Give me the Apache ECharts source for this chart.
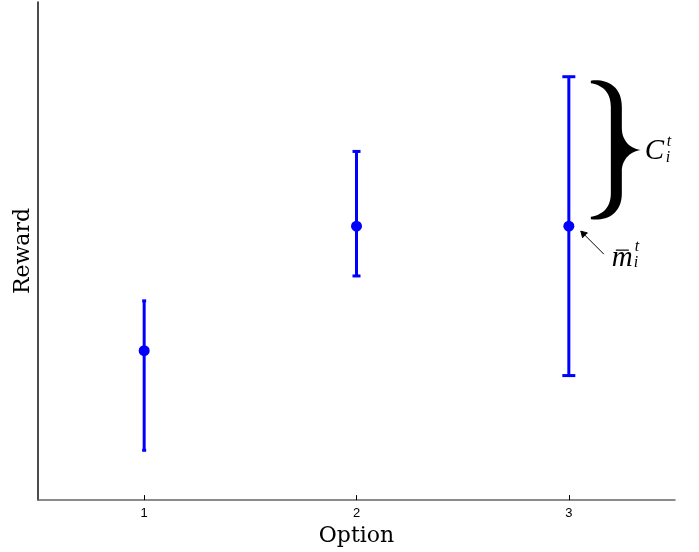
<!DOCTYPE html>
<html><head><meta charset="utf-8">
<script src="https://cdn.jsdelivr.net/npm/echarts@6/dist/echarts.min.js"></script>
<style>html,body{margin:0;padding:0;background:#fff}#c{width:699px;height:552px}</style>
</head><body><div id="c"></div>
<script>
// ---- data ----
const categories = ['1', '2', '3'];
const means = [3, 5.5, 5.5];
const lows = [1, 4.5, 2.5];
const highs = [4, 7, 8.5];
const braceIndex = 2;          // option whose confidence interval is annotated
const braceLabel = 'C';        // C_i^t
const meanLabel = 'm';         // \bar m_i^t
const yMin = 0, yMax = 10;

// ---- styles ----
const BLUE = '#0000ff';
const capWidths = [4, 8, 13];

const chart = echarts.init(document.getElementById('c'), null, {renderer: 'canvas'});

function errorBars(params, api) {
  const i = api.value(0);
  const lo = api.coord([i, api.value(1)]);
  const hi = api.coord([i, api.value(2)]);
  const w = capWidths[params.dataIndex] / 2;
  const st = {stroke: BLUE, lineWidth: 3};
  return {type: 'group', children: [
    {type: 'line', shape: {x1: lo[0], y1: lo[1], x2: hi[0], y2: hi[1]}, style: st},
    {type: 'line', shape: {x1: lo[0] - w, y1: lo[1], x2: lo[0] + w, y2: lo[1]}, style: st},
    {type: 'line', shape: {x1: hi[0] - w, y1: hi[1], x2: hi[0] + w, y2: hi[1]}, style: st}
  ]};
}

function annotation(params, api) {
  const i = api.value(0);
  const pm = api.coord([i, api.value(1)]);
  const ph = api.coord([i, api.value(2)]);
  const x0 = pm[0] + 22, top = ph[1] + 4, bot = pm[1] - 7, M = (top + bot) / 2;
  const xo = x0 + 31, xi = x0 + 20, xt = x0 + 50;
  const d = `M${x0},${top} C${x0+14},${top-2} ${xo},${top+4} ${xo},${top+26} L${xo},${M-22} ` +
    `C${xo},${M-8} ${x0+41},${M-1} ${xt},${M} C${x0+41},${M+1} ${xo},${M+8} ${xo},${M+22} ` +
    `L${xo},${bot-26} C${xo},${bot-4} ${x0+14},${bot+2} ${x0},${bot} L${x0},${bot-2.5} ` +
    `C${x0+10},${bot-4} ${xi},${bot-10} ${xi},${bot-26} L${xi},${top+26} ` +
    `C${xi},${top+10} ${x0+10},${top+4} ${x0},${top+2.5} Z`;
  // arrow
  const hx = pm[0] + 12, hy = pm[1] + 5, tx = pm[0] + 35, ty = pm[1] + 28;
  const ang = Math.atan2(hy - ty, hx - tx), L = 7, a = Math.PI / 6;
  const ax1 = hx - L * Math.cos(ang - a), ay1 = hy - L * Math.sin(ang - a);
  const ax2 = hx - L * Math.cos(ang + a), ay2 = hy - L * Math.sin(ang + a);
  const ast = {stroke: '#000', lineWidth: 1};
  const mathFont = 'italic 29px "Liberation Serif", "DejaVu Serif", serif';
  const smallFont = 'italic 16px "Liberation Serif", "DejaVu Serif", serif';
  const mx = pm[0] + 43, my = pm[1] + 32;
  return {type: 'group', children: [
    {type: 'path', shape: {pathData: d}, style: {fill: '#000'}},
    {type: 'line', shape: {x1: tx, y1: ty, x2: hx, y2: hy}, style: ast},
    {type: 'polyline', shape: {points: [[ax1, ay1], [hx, hy], [ax2, ay2]]}, style: ast},
    // C_i^t
    {type: 'text', x: xt + 4, y: M + 1, style: {text: braceLabel, font: mathFont, fill: '#000', textVerticalAlign: 'middle', textAlign: 'left'}},
    {type: 'text', x: xt + 26, y: M - 8, style: {text: 't', font: smallFont, fill: '#000', textVerticalAlign: 'middle', textAlign: 'left'}},
    {type: 'text', x: xt + 25, y: M + 8, style: {text: 'i', font: smallFont, fill: '#000', textVerticalAlign: 'middle', textAlign: 'left'}},
    // m-bar_i^t
    {type: 'text', x: mx, y: my, style: {text: meanLabel, font: mathFont, fill: '#000', textVerticalAlign: 'middle', textAlign: 'left'}},
    {type: 'line', shape: {x1: mx + 4, y1: my - 8, x2: mx + 17, y2: my - 8}, style: {stroke: '#000', lineWidth: 1.2}},
    {type: 'text', x: mx + 23, y: my - 11, style: {text: 't', font: smallFont, fill: '#000', textVerticalAlign: 'middle', textAlign: 'left'}},
    {type: 'text', x: mx + 22, y: my + 5, style: {text: 'i', font: smallFont, fill: '#000', textVerticalAlign: 'middle', textAlign: 'left'}}
  ]};
}

chart.setOption({
  animation: false,
  backgroundColor: '#fff',
  grid: {left: 38, right: 24, top: 2, bottom: 49, containLabel: false},
  xAxis: {
    type: 'category', data: categories, boundaryGap: true,
    name: 'Option', nameLocation: 'middle', nameGap: 17,
    nameTextStyle: {fontFamily: 'DejaVu Serif', fontSize: 22, color: '#000', verticalAlign: 'top'},
    axisLine: {lineStyle: {color: '#666', width: 1.5}},
    axisTick: {show: true, inside: true, length: 5, alignWithLabel: true, lineStyle: {color: '#000', width: 1}},
    axisLabel: {fontFamily: 'Liberation Sans', fontSize: 13, color: '#000', margin: 7},
    splitLine: {show: false}
  },
  yAxis: {
    type: 'value', min: yMin, max: yMax,
    name: 'Reward', nameLocation: 'middle', nameGap: 4,
    nameTextStyle: {fontFamily: 'DejaVu Serif', fontSize: 22, color: '#000'},
    axisLine: {show: true, lineStyle: {color: '#111', width: 1.5}},
    axisTick: {show: false}, axisLabel: {show: false}, splitLine: {show: false}
  },
  series: [
    {type: 'custom', renderItem: errorBars, data: categories.map((c, i) => [i, lows[i], highs[i]]), z: 2},
    {type: 'scatter', data: categories.map((c, i) => [i, means[i]]), symbol: 'circle', symbolSize: 11,
      itemStyle: {color: BLUE, opacity: 1}, z: 3},
    {type: 'custom', renderItem: annotation, data: [[braceIndex, means[braceIndex], highs[braceIndex]]], z: 4, silent: true}
  ]
});
</script></body></html>
